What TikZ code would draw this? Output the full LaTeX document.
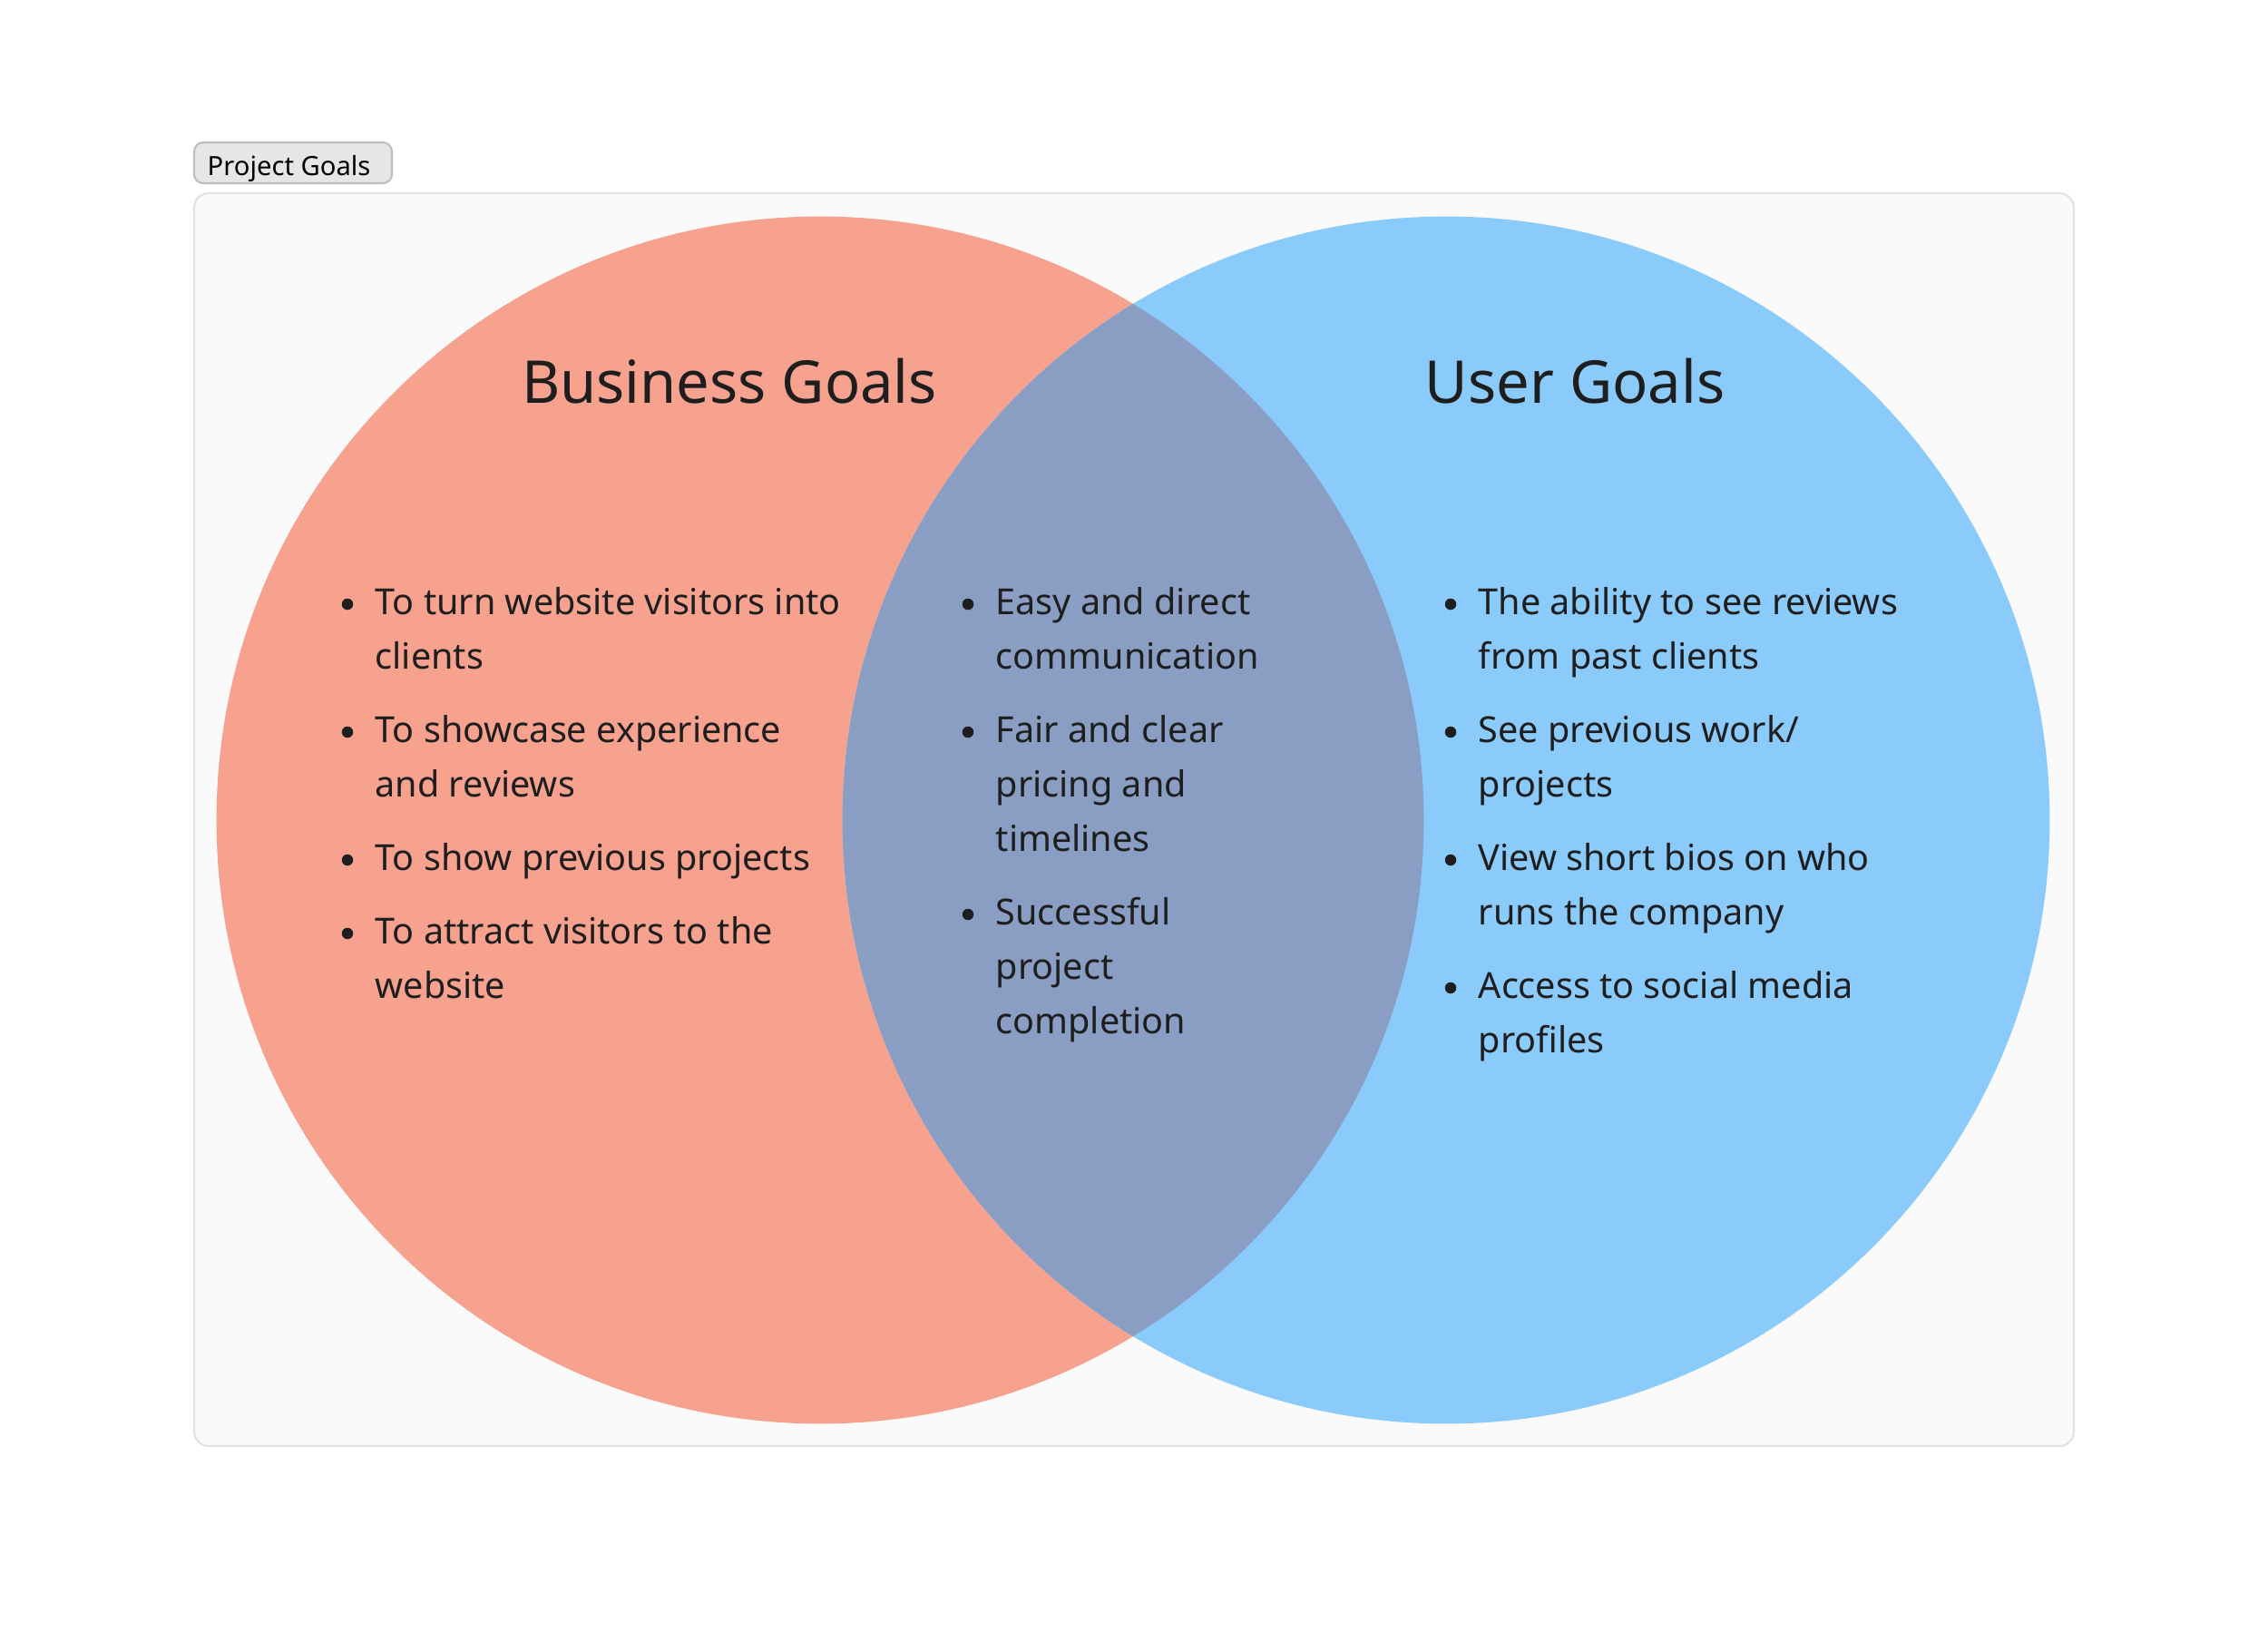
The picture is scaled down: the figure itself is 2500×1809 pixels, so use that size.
\documentclass[tikz,border=0pt]{standalone}
\usepackage{fontspec}
\setmainfont{Noto Sans}
\definecolor{salmon}{HTML}{F7A28F}
\definecolor{skyblue}{HTML}{8BCBFC}
\definecolor{overlap}{HTML}{8A9EC4}
\definecolor{ink}{HTML}{1E1E1E}
\definecolor{framefill}{HTML}{FAFAFA}
\definecolor{frameline}{HTML}{E2E2E2}
\definecolor{tagfill}{HTML}{E6E6E6}
\definecolor{tagline}{HTML}{BDBDBD}
\begin{document}
\begin{tikzpicture}[x=0.01cm,y=-0.01cm,
  itemtext/.style={anchor=base west, inner sep=0pt, text=ink, font=\fontsize{11.25}{13}\selectfont},
  bul/.style={circle, fill=ink, draw=none, inner sep=0pt, minimum size=0.125cm},
  titletext/.style={anchor=base, inner sep=0pt, text=ink, font=\fontsize{18.5}{22}\selectfont}]
\useasboundingbox (0,0) rectangle (2500,1809);
\fill[white] (0,0) rectangle (2500,1809);
% tag
\draw[fill=tagfill, draw=tagline, line width=0.6pt, rounded corners=0.1cm] (214,157) rectangle (432,202);
\node[anchor=base west, inner sep=0pt, text=black, font=\fontsize{8.3}{10}\selectfont] (tag) at (228,193) {Project Goals};
% frame
\draw[fill=framefill, draw=frameline, line width=0.6pt, rounded corners=0.16cm] (214,213) rectangle (2286,1594);
% circles
\coordinate (cl) at (904,904);
\coordinate (cr) at (1594,904);
\fill[salmon] (cl) circle[radius=6.65cm];
\fill[skyblue] (cr) circle[radius=6.65cm];
\begin{scope}
  \clip (cl) circle[radius=6.65cm];
  \fill[overlap] (cr) circle[radius=6.65cm];
\end{scope}
% titles
\node[titletext] (tb) at (804,444) {Business Goals};
\node[titletext] (tu) at (1736,444) {User Goals};
% left list
\node[bul] (lb1) at (383,666) {};
\node[itemtext] (l1a) at (413,677) {To turn website visitors into};
\node[itemtext] (l1b) at (413,737) {clients};
\node[bul] (lb2) at (383,807) {};
\node[itemtext] (l2a) at (413,818) {To showcase experience};
\node[itemtext] (l2b) at (413,878) {and reviews};
\node[bul] (lb3) at (383,948) {};
\node[itemtext] (l3a) at (413,959) {To show previous projects};
\node[bul] (lb4) at (383,1029) {};
\node[itemtext] (l4a) at (413,1040) {To attract visitors to the};
\node[itemtext] (l4b) at (413,1100) {website};
% middle list
\node[bul] (mb1) at (1067,666) {};
\node[itemtext] (m1a) at (1097,677) {Easy and direct};
\node[itemtext] (m1b) at (1097,737) {communication};
\node[bul] (mb2) at (1067,807) {};
\node[itemtext] (m2a) at (1097,818) {Fair and clear};
\node[itemtext] (m2b) at (1097,878) {pricing and};
\node[itemtext] (m2c) at (1097,938) {timelines};
\node[bul] (mb3) at (1067,1008) {};
\node[itemtext] (m3a) at (1097,1019) {Successful};
\node[itemtext] (m3b) at (1097,1079) {project};
\node[itemtext] (m3c) at (1097,1139) {completion};
% right list
\node[bul] (rb1) at (1599,666) {};
\node[itemtext] (r1a) at (1629,677) {The ability to see reviews};
\node[itemtext] (r1b) at (1629,737) {from past clients};
\node[bul] (rb2) at (1599,807) {};
\node[itemtext] (r2a) at (1629,818) {See previous work/};
\node[itemtext] (r2b) at (1629,878) {projects};
\node[bul] (rb3) at (1599,948) {};
\node[itemtext] (r3a) at (1629,959) {View short bios on who};
\node[itemtext] (r3b) at (1629,1019) {runs the company};
\node[bul] (rb4) at (1599,1089) {};
\node[itemtext] (r4a) at (1629,1100) {Access to social media};
\node[itemtext] (r4b) at (1629,1160) {profiles};
\end{tikzpicture}
\end{document}
